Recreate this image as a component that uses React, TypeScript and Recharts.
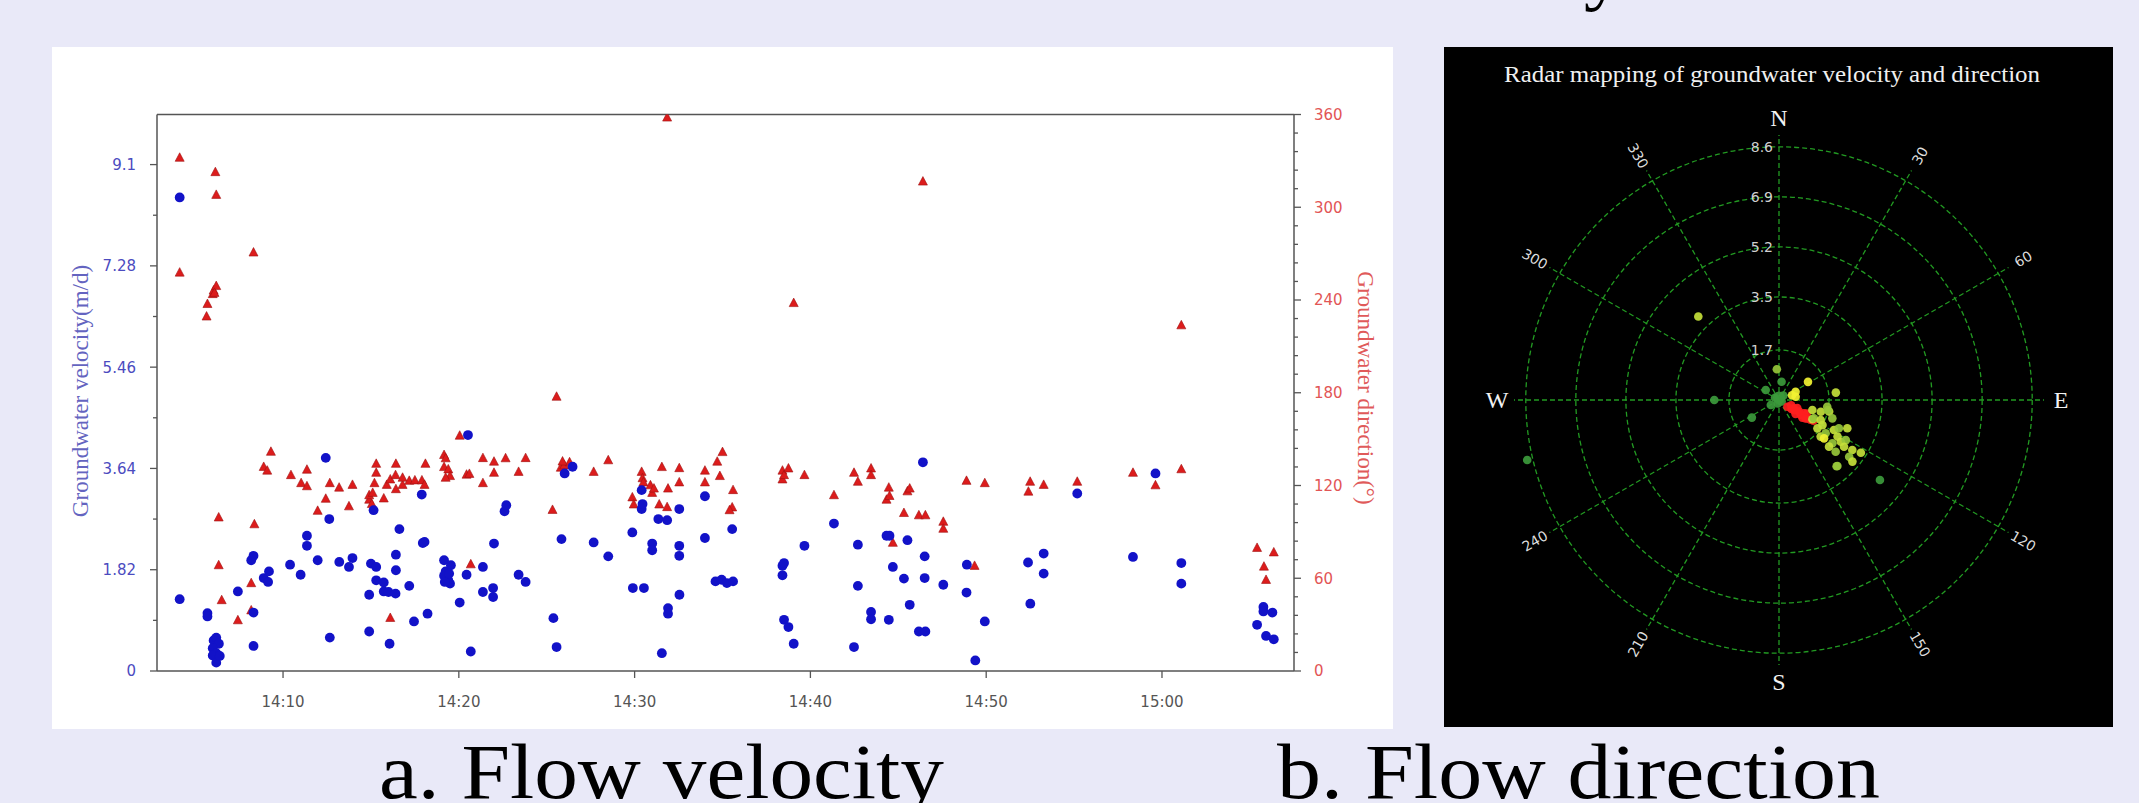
import React from "react";
import {
  ScatterChart,
  Scatter,
  XAxis,
  YAxis,
  ReferenceLine,
  RadarChart,
  Radar,
  PolarGrid,
  PolarAngleAxis,
  PolarRadiusAxis,
} from "recharts";

// ---- panel a: velocity / direction over time (minutes after 14:00) ----
const velocityTimes = [
  4.12, 4.12, 5.7, 5.7, 6.05, 6.2, 6.35, 6.0, 6.2, 6.0, 6.2, 6.4,
  7.43, 8.19, 8.32, 8.32, 8.32, 8.9, 9.15, 9.2,
  10.4, 11.0, 11.36, 11.36, 11.97, 12.43, 12.63, 12.66,
  13.2, 13.75, 13.95,
  14.9, 14.9, 15.0, 15.15, 15.3, 15.3, 15.73, 15.73, 16.0, 16.4, 16.06, 16.42, 16.42, 16.62, 17.18, 17.45, 17.89, 17.95, 18.05, 18.22,
  19.16, 19.25, 19.16, 19.4, 19.5, 19.55, 19.2, 19.45,
  20.05, 20.44, 20.52, 20.68, 21.37, 21.37, 21.95, 21.95, 22.0, 22.6, 22.7, 23.4, 23.8,
  25.38, 25.56, 25.84, 26.02, 26.47, 27.67, 28.5,
  29.87, 29.9, 30.53, 30.4, 30.4, 30.45, 31.0, 31.0, 31.35, 31.85, 31.55, 31.9, 31.9, 32.54, 32.54, 32.54, 32.55,
  34.0, 34.0, 34.6, 34.95, 35.25, 35.6, 35.55,
  38.41, 38.5, 38.41, 38.5, 38.75, 39.05, 39.66, 41.34, 42.48, 42.7, 42.7, 43.45, 43.45, 44.33, 44.5, 44.46, 44.69, 45.32, 45.52, 45.65, 46.4, 46.5, 46.5, 46.17, 46.54, 47.56, 48.88, 48.9, 49.38, 49.92,
  52.38, 52.51, 53.27, 53.27, 55.18, 58.35, 59.63, 61.1, 61.1,
  65.41, 65.77, 65.77, 65.92, 66.28, 66.36,
];
const velocityValues = [
  8.51, 1.29, 1.04, 0.98, 0.55, 0.6, 0.49, 0.41, 0.32, 0.28, 0.15, 0.27,
  1.43, 1.99, 2.07, 1.05, 0.45, 1.67, 1.6, 1.79,
  1.91, 1.73, 2.43, 2.25, 1.99, 3.83, 2.73, 0.6,
  1.96, 1.87, 2.03,
  1.37, 0.71, 1.93, 2.89, 1.87, 1.63, 1.59, 1.43, 1.42, 1.39, 0.49, 2.09, 1.81, 2.55, 1.53, 0.89, 3.17, 2.3, 2.32, 1.03,
  1.99, 1.79, 1.71, 1.63, 1.57, 1.9, 1.6, 1.75,
  1.23, 1.73, 4.24, 0.35, 1.87, 1.42, 1.49, 1.33, 2.29, 2.87, 2.98, 1.73, 1.6,
  0.95, 0.43, 2.37, 3.55, 3.67, 2.31, 2.06,
  2.49, 1.49, 1.49, 3.25, 2.91, 3.0, 2.29, 2.17, 2.73, 2.71, 0.32, 1.13, 1.03, 2.91, 2.25, 2.07, 1.37,
  3.14, 2.39, 1.61, 1.64, 1.58, 1.61, 2.55,
  1.89, 1.94, 1.72, 0.92, 0.79, 0.49, 2.25, 2.65, 0.43, 1.53, 2.27, 1.06, 0.93, 2.43, 2.43, 0.92, 1.87, 1.66, 2.35, 1.19, 3.75, 2.06, 1.67, 0.71, 0.71, 1.55, 1.41, 1.91, 0.19, 0.89,
  1.95, 1.21, 2.11, 1.75, 3.19, 2.05, 3.55, 1.94, 1.57,
  0.83, 1.15, 1.07, 0.63, 1.05, 0.57,
];
const directionTimes = [
  4.12, 4.12, 6.15, 6.2, 5.65, 5.7, 6.0, 6.05, 6.2, 6.1, 6.34, 6.34, 6.51, 7.43, 8.32, 8.37, 8.19, 8.19, 8.9, 9.1, 9.31,
  10.45, 11.03, 11.36, 11.36, 11.97, 12.43, 12.66, 13.19, 13.75, 13.95,
  14.9, 14.9, 15.1, 15.2, 15.3, 15.3, 15.05, 15.73, 15.9, 16.1, 16.4, 16.42, 16.42, 16.8, 16.8, 16.1,
  17.18, 17.5, 17.9, 18.05, 18.1,
  19.16, 19.25, 19.16, 19.4, 19.5, 19.25,
  20.05, 20.44, 20.6, 20.68, 21.37, 21.37, 22.0, 22.0, 22.66, 23.4, 23.8,
  25.33, 25.56, 25.8, 26.0, 26.3, 25.9, 27.67, 28.5,
  29.87, 29.95, 30.4, 30.45, 30.5, 30.9, 31.0, 31.1, 31.4, 31.85, 31.55, 31.85, 31.9, 32.54, 32.54,
  34.0, 34.0, 34.7, 35.0, 34.85, 35.55, 35.6, 35.4,
  38.41, 38.41, 38.5, 38.75, 39.05, 39.66, 41.34, 42.48, 42.7, 43.45, 43.45, 44.46, 44.33, 44.5, 44.69, 45.32, 45.52, 45.65, 46.17, 46.54, 46.4, 47.56, 47.56, 48.88, 49.34, 49.92,
  52.4, 52.5, 53.27, 55.18, 58.35, 59.63, 61.1, 61.1,
  65.41, 65.8, 65.92, 66.36,
];
const directionValues = [
  332, 257.7, 322.7, 308, 229.3, 237.4, 243.8, 246.1, 249, 244.6, 99.3, 68.4, 45.8, 32.8, 270.7, 94.9, 56.8, 39.2, 132, 129.6, 141.8,
  126.7, 121.5, 130.2, 119.5, 103.6, 111.4, 121.5, 118.6, 106.5, 120.4,
  110.8, 113.7, 115.2, 121.5, 128.2, 134, 108, 111.6, 120.4, 123.9, 126.7, 134, 117.6, 120.4, 125, 34.3,
  123, 123.3, 123.3, 120.4, 134,
  139.7, 137.6, 131.9, 130.4, 126.1, 125,
  152.2, 127, 127.5, 69, 137.7, 121.5, 135.4, 128.2, 137.6, 128.8, 137.7,
  104.2, 177.4, 131.5, 133, 135, 135.5, 128.8, 136.3,
  112.3, 107.7, 128.8, 124.7, 122, 120.1, 115.2, 118, 107.7, 106, 131.9, 358, 118, 131.2, 122,
  129.6, 122, 135.4, 141.6, 126.1, 105.8, 117, 104,
  129.6, 123.9, 126.7, 131, 238, 126.7, 113.7, 128.2, 122.4, 131, 126.7, 118.6, 110.8, 113.2, 82.9, 102.2, 116.2, 118, 100.7, 100.7, 316.6, 96.5, 92, 123, 68, 121.5,
  116, 122.4, 120.4, 122.4, 128.2, 120.1, 223.6, 130.5,
  79.6, 67.5, 58.9, 76.7,
];

const timeTicks = [10, 20, 30, 40, 50, 60];
const timeLabels = ["14:10", "14:20", "14:30", "14:40", "14:50", "15:00"];
const velocityMajorTicks = [0, 1.82, 3.64, 5.46, 7.28, 9.1];
const velocityMinorTicks = [0.91, 2.73, 4.55, 6.37, 8.19];
const directionMajorTicks = [0, 60, 120, 180, 240, 300, 360];
const directionMinorTicks = [
  12, 24, 36, 48, 72, 84, 96, 108, 132, 144, 156, 168,
  192, 204, 216, 228, 252, 264, 276, 288, 312, 324, 336, 348,
];

// ---- panel b: radar (compass degrees, m/d, colour group) ----
const compassLabels = ["N", "30", "60", "E", "120", "150", "S", "210", "240", "W", "300", "330"];
const radiusTicks = [1.7, 3.5, 5.2, 6.9, 8.6];
const radiusMax = 8.6;
const radarAngles = [
  316, 256.6, 270, 237, 239, 307, 356, 8, 0, 120, 300, 200, 45,
  58, 63.6, 79, 70,
  82.6,
  128.6, 113, 123.7, 114, 124.6, 118, 123, 122, 120, 126, 130, 116, 127, 119, 125, 121,
  106.7, 105.7, 97.9, 103, 109, 126.4, 120, 131.3, 125.5, 130.4,
  118.6, 115.3, 122, 129, 124, 112.5, 121, 124.3, 129, 122.8,
  130, 138.5, 120, 117.6, 115.6, 132.4, 133, 125.7, 128.4, 139, 101.5,
];
const radarSpeeds = [
  3.77, 8.4, 2.1, 1.05, 0.31, 0.54, 1.0, 0.6, 0.08, 0.1, 0.15, 0.12, 0.2,
  1.11, 0.6, 0.55, 0.45,
  1.86,
  0.35, 0.43, 0.59, 0.65, 0.86, 0.92, 1.1, 1.2, 0.75, 0.5, 0.7, 1.0, 0.95, 0.55, 1.05, 1.3,
  1.13, 1.41, 1.58, 1.67, 1.83, 1.55, 1.63, 1.8, 1.86, 1.92,
  2.03, 2.15, 2.24, 2.23, 2.42, 2.4, 2.53, 2.88, 2.93, 3.16,
  3.11, 2.86, 1.25, 1.28, 1.5, 2.49, 2.22, 2.6, 4.18, 2.85, 1.62,
];
const radarGroups = [
  2, 4, 4, 4, 4, 4, 3, 4, 4, 4, 4, 4, 4,
  1, 1, 1, 1,
  2,
  0, 0, 0, 0, 0, 0, 0, 0, 0, 0, 0, 0, 0, 0, 0, 0,
  2, 2, 3, 2, 3, 2, 2, 2, 3, 1,
  2, 3, 2, 3, 2, 2, 3, 2, 3, 2,
  2, 3, 2, 3, 2, 3, 2, 2, 4, 3, 3,
];
const groupColors = ["#ff1f1f", "#f2f232", "#c4e03a", "#96c63a", "#3c9a3c"];

const velocityData = velocityTimes.map((t, i) => ({ t, y: velocityValues[i] }));
const directionData = directionTimes.map((t, i) => ({ t, y: directionValues[i] }));
// the invisible radar series only carries the axis maximum so the polar scale exists
const compassData = compassLabels.map((label) => ({ label, reach: radiusMax }));
const radarData = radarAngles.map((a, i) => {
  const rad = (a * Math.PI) / 180;
  return {
    x: radarSpeeds[i] * Math.sin(rad),
    y: radarSpeeds[i] * Math.cos(rad),
    c: groupColors[radarGroups[i]],
    big: radarSpeeds[i] < 0.1,
  };
});

const AXIS = "#555";
const TICK_FONT = "DejaVu Sans";
const SERIF = "Liberation Serif";

const XTick = ({ x, y, payload }: any) => (
  <g>
    <line x1={x} x2={x} y1={y} y2={y + 7} stroke={AXIS} strokeWidth={1.3} />
    <text x={x} y={y + 36} textAnchor="middle" fill="#555" fontSize={15} fontFamily={TICK_FONT}>
      {timeLabels[timeTicks.indexOf(payload.value)]}
    </text>
  </g>
);

const LeftTick = ({ x, y, payload }: any) => {
  const major = velocityMajorTicks.includes(payload.value);
  return (
    <g>
      <line x1={x} x2={x - (major ? 7 : 4)} y1={y} y2={y} stroke={AXIS} strokeWidth={1.3} />
      {major && (
        <text x={x - 21} y={y} dy="0.36em" textAnchor="end" fill="#4b4bbf" fontSize={15} fontFamily={TICK_FONT}>
          {payload.value}
        </text>
      )}
    </g>
  );
};

const RightTick = ({ x, y, payload }: any) => {
  const major = directionMajorTicks.includes(payload.value);
  return (
    <g>
      <line x1={x} x2={x + (major ? 7 : 4)} y1={y} y2={y} stroke={AXIS} strokeWidth={1.3} />
      {major && (
        <text x={x + 20} y={y} dy="0.36em" textAnchor="start" fill="#e25555" fontSize={15} fontFamily={TICK_FONT}>
          {payload.value}
        </text>
      )}
    </g>
  );
};

const Dot = ({ cx, cy }: any) => <circle cx={cx} cy={cy} r={4.9} fill="#1212c8" />;

const Tri = ({ cx, cy }: any) => (
  <polygon
    points={`${cx},${cy - 5} ${cx - 4.5},${cy + 3.5} ${cx + 4.5},${cy + 3.5}`}
    fill="#dc1c1c"
    stroke="#a01010"
    strokeWidth={0.6}
  />
);

const CompassTick = ({ x, y, payload }: any) => {
  const idx = compassLabels.indexOf(payload.value);
  if (idx % 3 === 0) {
    return (
      <text x={x} y={y} textAnchor="middle" dominantBaseline="central" fill="#f2f2f2" fontSize={24} fontFamily={SERIF}>
        {payload.value}
      </text>
    );
  }
  const deg = idx * 30;
  const rot = deg < 180 ? deg - 90 : deg - 270;
  return (
    <text
      x={x}
      y={y}
      transform={`rotate(${rot} ${x} ${y})`}
      textAnchor="middle"
      dominantBaseline="central"
      fill="#dddddd"
      fontSize={14}
      fontFamily={TICK_FONT}
    >
      {payload.value}
    </text>
  );
};

const RadiusTick = ({ x, y, payload }: any) => (
  <text x={x - 6} y={y} textAnchor="end" dominantBaseline="central" fill="#d0d0d0" fontSize={14} fontFamily={TICK_FONT}>
    {payload.value}
  </text>
);

const RadarDot = (props: any) => {
  const p = props.payload ?? props;
  return <circle cx={props.cx} cy={props.cy} r={p.big ? 6 : 4.3} fill={p.c} fillOpacity={0.92} />;
};

export default function App() {
  return (
    <div style={{ position: "absolute", left: 0, top: 0, width: 2139, height: 803, background: "#e9e9f8", overflow: "hidden" }}>
      <svg width={2139} height={803} style={{ position: "absolute", left: 0, top: 0 }}>
        <text x={1623} y={-5} textAnchor="end" fontSize={78} fontFamily={SERIF} fill="#000">
          Groundwater flow velocity
        </text>
        <text x={379} y={798} fontSize={78} fontFamily={SERIF} fill="#000" textLength={565} lengthAdjust="spacingAndGlyphs">
          a. Flow velocity
        </text>
        <text x={1277} y={798} fontSize={78} fontFamily={SERIF} fill="#000" textLength={603} lengthAdjust="spacingAndGlyphs">
          b. Flow direction
        </text>
      </svg>

      <div style={{ position: "absolute", left: 52, top: 47, width: 1341, height: 682, background: "#fff" }}>
        <ScatterChart width={1341} height={682} margin={{ top: 67.5, right: 0, bottom: 0, left: 0 }}>
          <XAxis
            type="number"
            dataKey="t"
            domain={[2.83, 67.51]}
            allowDataOverflow
            ticks={timeTicks}
            interval={0}
            height={58}
            stroke={AXIS}
            strokeWidth={1.5}
            tickLine={false}
            tickSize={0}
            tickMargin={0}
            tick={<XTick />}
          />
          <YAxis
            yAxisId="v"
            type="number"
            dataKey="y"
            domain={[0, 10]}
            allowDataOverflow
            ticks={[...velocityMajorTicks, ...velocityMinorTicks]}
            interval={0}
            width={105}
            stroke={AXIS}
            strokeWidth={1.5}
            tickLine={false}
            tickSize={0}
            tickMargin={0}
            tick={<LeftTick />}
          />
          <YAxis
            yAxisId="d"
            orientation="right"
            type="number"
            dataKey="y"
            domain={[0, 360]}
            allowDataOverflow
            ticks={[...directionMajorTicks, ...directionMinorTicks]}
            interval={0}
            width={99}
            stroke={AXIS}
            strokeWidth={1.5}
            tickLine={false}
            tickSize={0}
            tickMargin={0}
            tick={<RightTick />}
          />
          <ReferenceLine yAxisId="v" y={10} stroke={AXIS} strokeWidth={1.5} />
          <Scatter yAxisId="d" data={directionData} shape={<Tri />} isAnimationActive={false} />
          <Scatter yAxisId="v" data={velocityData} shape={<Dot />} isAnimationActive={false} />
        </ScatterChart>
        <svg width={1341} height={682} style={{ position: "absolute", left: 0, top: 0, pointerEvents: "none" }}>
          <text
            x={28}
            y={344}
            transform="rotate(-90 28 344)"
            textAnchor="middle"
            dominantBaseline="central"
            fill="#6464c0"
            fontSize={23}
            fontFamily={SERIF}
          >
            Groundwater velocity(m/d)
          </text>
          <text
            x={1313}
            y={341}
            transform="rotate(90 1313 341)"
            textAnchor="middle"
            dominantBaseline="central"
            fill="#e05a5a"
            fontSize={23}
            fontFamily={SERIF}
          >
            Groundwater direction(°)
          </text>
        </svg>
      </div>

      <div style={{ position: "absolute", left: 1444, top: 47, width: 669, height: 680, background: "#000" }}>
        <svg width={669} height={60} style={{ position: "absolute", left: 0, top: 0 }}>
          <text x={60} y={34.7} fontSize={23} fontFamily={SERIF} fill="#f0f0f0" textLength={536} lengthAdjust="spacingAndGlyphs">
            Radar mapping of groundwater velocity and direction
          </text>
        </svg>
        <div style={{ position: "absolute", left: 0, top: 0 }}>
          <RadarChart width={669} height={680} cx={335} cy={353} outerRadius={265} data={compassData}>
            <PolarGrid gridType="circle" stroke="#229a22" strokeWidth={1.3} strokeDasharray="5 3" />
            <PolarAngleAxis dataKey="label" axisLine={false} tickLine={false} tickSize={17} tick={<CompassTick />} />
            <PolarRadiusAxis
              angle={90}
              type="number"
              domain={[0, radiusMax]}
              ticks={radiusTicks as any}
              tickCount={6}
              axisLine={false}
              tickLine={false}
              tick={<RadiusTick />}
            />
            <Radar dataKey="reach" stroke="none" fill="none" dot={false} isAnimationActive={false} />
          </RadarChart>
        </div>
        <div style={{ position: "absolute", left: 70, top: 88 }}>
          <ScatterChart width={530} height={530} margin={{ top: 0, right: 0, bottom: 0, left: 0 }}>
            <XAxis type="number" dataKey="x" domain={[-8.6, 8.6]} allowDataOverflow hide />
            <YAxis type="number" dataKey="y" domain={[-8.6, 8.6]} allowDataOverflow hide />
            <Scatter data={radarData} shape={<RadarDot />} isAnimationActive={false} />
          </ScatterChart>
        </div>
      </div>
    </div>
  );
}
